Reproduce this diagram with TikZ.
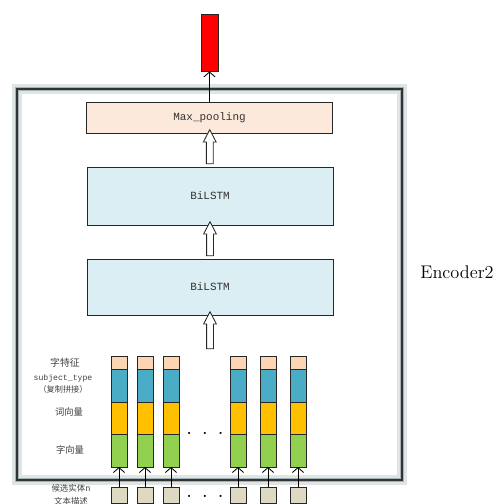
\documentclass[tikz,border=0pt]{standalone}
\usepackage{fontspec}
\setmonofont{Liberation Mono}
\newfontfamily\cjk{Noto Sans CJK SC}
\usetikzlibrary{arrows.meta, shapes.arrows, positioning, calc}

\definecolor{poolfill}{HTML}{FDE9DC}
\definecolor{lstmfill}{HTML}{DAEEF3}
\definecolor{featfill}{HTML}{FCD5B4}
\definecolor{typefill}{HTML}{4BACC6}
\definecolor{wordfill}{HTML}{FFC000}
\definecolor{charfill}{HTML}{92D050}
\definecolor{descfill}{HTML}{DDD9C3}
\definecolor{glow}{HTML}{A3B3B6}

\begin{document}
\begin{tikzpicture}[x=0.025cm, y=-0.025cm, >={Straight Barb[length=3.5pt, width=8pt]},
  node distance=0pt,
  layer/.style={draw=black!85, line width=0.6pt, fill=lstmfill, minimum width=6.15cm,
    font=\ttfamily\fontsize{7.8}{9}\selectfont, text=black!80},
  seg/.style={draw=black!85, line width=0.6pt, minimum width=0.4cm, inner sep=0pt, outer sep=0pt},
  hollow/.style={single arrow, draw=black!85, fill=white, line width=0.6pt, rotate=90,
    inner xsep=0pt, inner ysep=0.075cm, single arrow head extend=0.075cm,
    single arrow tip angle=55},
  tag/.style={font=\cjk\fontsize{6.6}{8}\selectfont, text=black!75},
  dots/.style={font=\Large}]

\path[use as bounding box, clip] (0,0) rectangle (497,504);

% encoder frame with its soft border
\draw[glow!35, line width=6.5pt] (17,89) rectangle (402,480);
\draw[glow, line width=3.5pt] (17,89) rectangle (402,480);
\draw[black!80, line width=0.9pt] (17,89) rectangle (402,480);
\node (enc) at (457,272) {\fontsize{13}{15}\selectfont Encoder2};

% define the layers
\node[layer, fill=poolfill, minimum height=0.775cm] (pool) at (209.5,117.5) {Max\_pooling};
\node[layer, minimum height=1.45cm] (lstm1) at (210,196) {BiLSTM};
\node[layer, minimum height=1.4cm] (lstm2) at (210,287) {BiLSTM};
\node[draw=black!85, line width=0.6pt, fill=red, minimum width=0.425cm,
  minimum height=1.425cm, inner sep=0pt] (out) at (209.5,42.5) {};

% hollow arrows between the layers
\node[hollow, minimum height=0.85cm] (up1) at ($(pool.south)!0.5!(lstm1.north)$) {};
\node[hollow, minimum height=0.85cm] (up2) at ($(lstm1.south)!0.5!(lstm2.north)$) {};
\node[hollow, minimum height=0.925cm] (up3) at (210,333.5) {};
\draw[->, line width=0.6pt] (pool) -- (out);

% the input columns
\foreach \x [count=\i] in {119,145,171,238,268,298} {
  \node[seg, fill=featfill, minimum height=0.325cm] (feat\i) at (\x,362.5) {};
  \node[seg, fill=typefill, minimum height=0.825cm] (type\i) [below=of feat\i] {};
  \node[seg, fill=wordfill, minimum height=0.8cm] (word\i) [below=of type\i] {};
  \node[seg, fill=charfill, minimum height=0.825cm] (char\i) [below=of word\i] {};
  \node[seg, fill=descfill, minimum height=0.4cm] (desc\i) at (\x,495) {};
  \path[->, line width=0.6pt] (desc\i) edge (char\i);
}
\node[dots] (gap1) at (205,434) {$\cdot\;\cdot\;\cdot$};
\node[dots] (gap2) at (205,497) {$\cdot\;\cdot\;\cdot$};

% labels on the left
\node[tag, font=\cjk\fontsize{7}{8}\selectfont] (lfeat) at (65,363) {字特征};
\node[tag, font=\ttfamily\fontsize{5.8}{7}\selectfont] (ltype) at (63,378) {subject\_type};
\node[tag, font=\cjk\fontsize{5.8}{7}\selectfont] (lcopy) at (63,389) {（复制拼接）};
\node[tag] (lword) at (69,412) {词向量};
\node[tag] (lchar) at (70,450) {字向量};
\node[tag, font=\cjk\fontsize{6}{7}\selectfont] (ldesc) at (71,488) {候选实体n};
\node[tag, font=\cjk\fontsize{6}{7}\selectfont] (ltext) at (71,501) {文本描述};

\end{tikzpicture}
\end{document}
